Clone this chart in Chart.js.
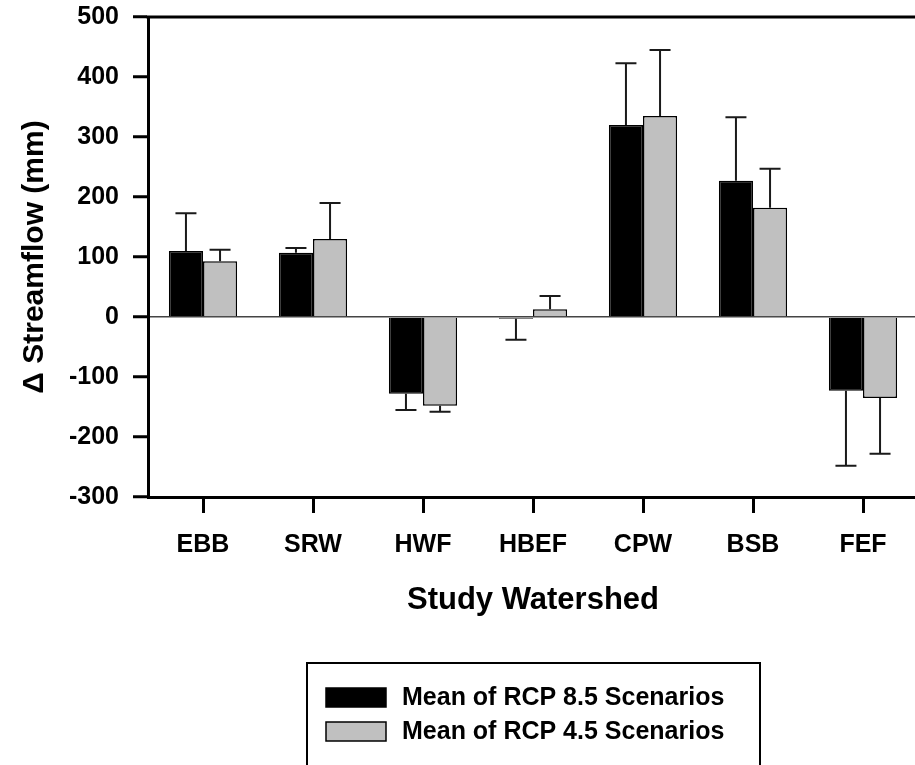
<!DOCTYPE html>
<html>
<head>
<meta charset="utf-8">
<script src="https://cdn.jsdelivr.net/npm/chart.js@4"></script>
<style>
  html, body { margin: 0; padding: 0; background: #fff; overflow: hidden; }
  #wrap { width: 915px; height: 765px; overflow: hidden; }
</style>
</head>
<body>
<div id="wrap">
  <canvas id="flow-chart" width="918" height="765"></canvas>
</div>
<script>
// Watersheds and mean streamflow change (mm)
var watersheds = ["EBB", "SRW", "HWF", "HBEF", "CPW", "BSB", "FEF"];
var rcp85 = [110, 107, -128, -3, 320, 227, -123];
var rcp45 = [93, 130, -148, 13, 335, 182, -135];
// one-sided error (drawn away from zero)
var err85 = [63, 8, 27, 35, 103, 106, 125];
var err45 = [19, 60, 10, 22, 110, 65, 93];
var yTicks = [-300, -200, -100, 0, 100, 200, 300, 400, 500];

var FONT = "'Liberation Sans', Arial, Helvetica, sans-serif";

// error bars, caps and top frame line
var errorBars = {
  id: "errorBars",
  afterDatasetsDraw: function(chart) {
    var ctx = chart.ctx;
    var y = chart.scales.y;
    var area = chart.chartArea;
    ctx.save();
    ctx.strokeStyle = "#1a1a1a";
    ctx.lineWidth = 2;
    chart.data.datasets.forEach(function(ds, i) {
      var meta = chart.getDatasetMeta(i);
      meta.data.forEach(function(bar, j) {
        var v = ds.data[j];
        var e = ds.errors[j];
        var end = v >= 0 ? v + e : v - e;
        var y0 = y.getPixelForValue(v);
        var y1 = y.getPixelForValue(end);
        ctx.beginPath();
        ctx.moveTo(bar.x, y0);
        ctx.lineTo(bar.x, y1);
        ctx.moveTo(bar.x - 10.5, y1);
        ctx.lineTo(bar.x + 10.5, y1);
        ctx.stroke();
      });
    });
    // top frame
    ctx.strokeStyle = "#000";
    ctx.lineWidth = 3;
    ctx.beginPath();
    ctx.moveTo(area.left - 1.5, area.top);
    ctx.lineTo(area.right, area.top);
    ctx.stroke();
    ctx.restore();
  }
};

// boxed legend under the axis title
var boxLegend = {
  id: "boxLegend",
  afterDraw: function(chart) {
    var ctx = chart.ctx;
    ctx.save();
    ctx.strokeStyle = "#000";
    ctx.lineWidth = 2;
    ctx.strokeRect(307, 663, 453, 120);
    ctx.font = "bold 25px " + FONT;
    ctx.textBaseline = "middle";
    ctx.fillStyle = "#000";
    chart.data.datasets.forEach(function(ds, i) {
      var cy = 697 + i * 34;
      ctx.fillStyle = ds.backgroundColor;
      ctx.fillRect(326, cy - 9, 60, 19);
      ctx.lineWidth = 1.5;
      ctx.strokeRect(326, cy - 9, 60, 19);
      ctx.fillStyle = "#000";
      ctx.fillText(ds.label, 402, cy + 1);
    });
    ctx.restore();
  }
};

new Chart(document.getElementById("flow-chart"), {
  type: "bar",
  data: {
    labels: watersheds,
    datasets: [
      {
        label: "Mean of RCP 8.5 Scenarios",
        data: rcp85,
        errors: err85,
        backgroundColor: "#000000",
        borderColor: "#000000",
        borderWidth: 1.5
      },
      {
        label: "Mean of RCP 4.5 Scenarios",
        data: rcp45,
        errors: err45,
        backgroundColor: "#c0c0c0",
        borderColor: "#000000",
        borderWidth: 1.5
      }
    ]
  },
  options: {
    responsive: false,
    animation: false,
    devicePixelRatio: 1,
    categoryPercentage: 0.62,
    barPercentage: 1.0,
    layout: { padding: { top: 17, right: 0, left: 0, bottom: 0 } },
    plugins: {
      legend: { display: false },
      tooltip: { enabled: false }
    },
    scales: {
      x: {
        offset: true,
        afterFit: function(scale) {
          scale.height = 268;
          scale.paddingLeft = 0;
          scale.paddingRight = 0;
        },
        grid: {
          offset: false,
          drawOnChartArea: false,
          tickLength: 16,
          tickWidth: 3,
          tickColor: "#000"
        },
        border: { color: "#000", width: 3 },
        ticks: {
          color: "#000",
          padding: 17,
          font: { family: FONT, size: 25, weight: "bold" }
        },
        title: {
          display: true,
          text: "Study Watershed",
          color: "#000",
          padding: { top: 0, bottom: 146 },
          font: { family: FONT, size: 31, weight: "bold" }
        }
      },
      y: {
        min: -300,
        max: 500,
        afterFit: function(scale) {
          scale.width = 148;
          scale.paddingTop = 0;
          scale.paddingBottom = 0;
        },
        afterBuildTicks: function(scale) {
          scale.ticks = yTicks.map(function(v) { return { value: v }; });
        },
        grid: {
          color: function(c) { return c.tick && c.tick.value === 0 ? "#444" : "rgba(0,0,0,0)"; },
          lineWidth: 1.5,
          tickLength: 15,
          tickWidth: 3,
          tickColor: "#000"
        },
        border: { color: "#000", width: 3 },
        ticks: {
          color: "#000",
          padding: 14,
          font: { family: FONT, size: 25, weight: "bold" }
        },
        title: {
          display: true,
          text: "\u0394 Streamflow (mm)",
          color: "#000",
          padding: { top: 17, bottom: 0 },
          font: { family: FONT, size: 30, weight: "bold" }
        }
      }
    }
  },
  plugins: [errorBars, boxLegend]
});
</script>
</body>
</html>
